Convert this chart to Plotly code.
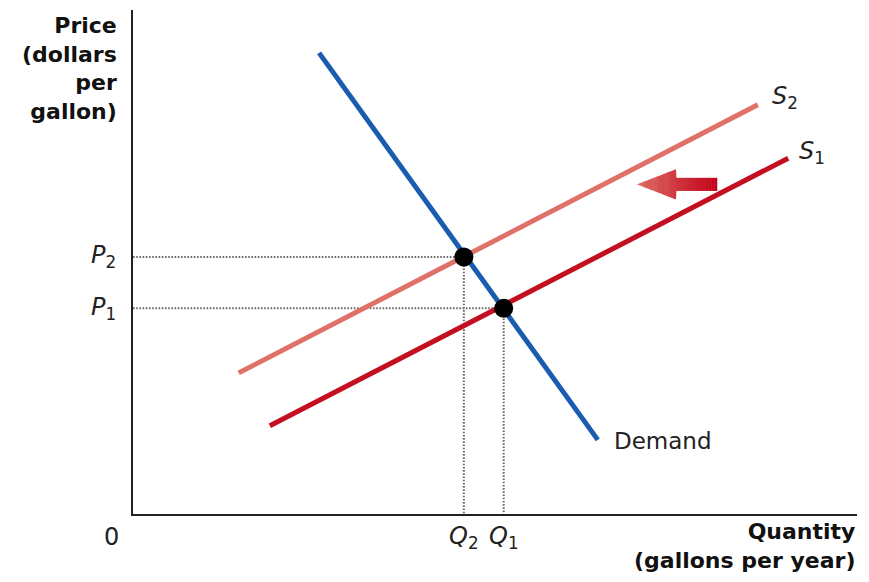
import plotly.graph_objects as go

# Demand curve and the two supply curves (quantity, price) endpoints
demand_q = [25.7, 64.2]
demand_p = [91.5, 14.7]
s1_q = [18.9, 90.5]
s1_p = [17.5, 70.6]
s2_q = [14.6, 86.3]
s2_p = [28.0, 81.2]

# Equilibria: first entry is the original (Q1, P1), second after the shift (Q2, P2)
eq_labels = ["1", "2"]
eq_q = [51.2, 45.7]
eq_p = [40.8, 51.0]

FONT = "DejaVu Sans"
BLUE = "#1a5cb0"
DARK_RED = "#c30f1f"
LIGHT_RED = "#e07168"
GUIDE = "#6a6a6a"

fig = go.Figure()

# Dotted guides from each equilibrium to the axes
for q, p in zip(eq_q, eq_p):
    fig.add_trace(go.Scatter(
        x=[0, q, q], y=[p, p, 0], mode="lines",
        line=dict(color=GUIDE, width=2, dash="1.6px,1.6px"),
        hoverinfo="skip", showlegend=False))

fig.add_trace(go.Scatter(x=s2_q, y=s2_p, mode="lines",
                         line=dict(color=LIGHT_RED, width=5), showlegend=False))
fig.add_trace(go.Scatter(x=s1_q, y=s1_p, mode="lines",
                         line=dict(color=DARK_RED, width=5), showlegend=False))
fig.add_trace(go.Scatter(x=demand_q, y=demand_p, mode="lines",
                         line=dict(color=BLUE, width=5), showlegend=False))
fig.add_trace(go.Scatter(x=eq_q, y=eq_p, mode="markers",
                         marker=dict(color="black", size=19, line=dict(width=0)),
                         showlegend=False))

# Leftward shift arrow, filled with a light-to-dark red gradient in thin slices
tip_x, base_x, tail_x = 69.6, 75.0, 80.7
mid_y, head_half, shaft_half = 65.4, 3.0, 1.3
c_left = (221, 108, 100)
c_right = (192, 0, 24)


def half_height(x):
    if x <= base_x:
        return head_half * (x - tip_x) / (base_x - tip_x)
    return shaft_half


def mix(t):
    return "rgb({},{},{})".format(*[round(a + (b - a) * t) for a, b in zip(c_left, c_right)])


edges = [tip_x + (base_x - tip_x) * i / 18 for i in range(19)]
edges += [base_x + (tail_x - base_x) * i / 14 for i in range(1, 15)]
shapes = []
for i in range(len(edges) - 1):
    x0, x1 = edges[i], edges[i + 1]
    x1e = min(x1 + 0.06, tail_x)
    if x0 < base_x:
        h0, h1 = half_height(x0), half_height(x1)
        h1e = h1 if x1e <= base_x else shaft_half
        path = (f"M{x0},{mid_y - h0} L{x1},{mid_y - h1} L{x1e},{mid_y - h1e} "
                f"L{x1e},{mid_y + h1e} L{x1},{mid_y + h1} L{x0},{mid_y + h0} Z")
    else:
        path = (f"M{x0},{mid_y - shaft_half} L{x1e},{mid_y - shaft_half} "
                f"L{x1e},{mid_y + shaft_half} L{x0},{mid_y + shaft_half} Z")
    t = ((x0 + x1) / 2 - tip_x) / (tail_x - tip_x)
    shapes.append(dict(type="path", path=path, xref="x", yref="y",
                       fillcolor=mix(t), line=dict(width=0), layer="above"))

annotations = [
    dict(text="<b>Price<br>(dollars<br>per<br>gallon)</b>", xref="paper", yref="paper",
         x=-0.019, y=0.998, xanchor="right", yanchor="top", align="right",
         showarrow=False, font=dict(family=FONT, size=22, color="#111")),
    dict(text="<b>Quantity<br>(gallons per year)</b>", xref="paper", yref="paper",
         x=1.0, y=-0.006, xanchor="right", yanchor="top", align="right",
         showarrow=False, font=dict(family=FONT, size=22, color="#111")),
    dict(text="0", xref="paper", yref="paper", x=-0.030, y=-0.046,
         xanchor="center", yanchor="middle", showarrow=False,
         font=dict(family=FONT, size=24, color="#222")),
    dict(text="Demand", xref="x", yref="y", x=66.2, y=14.5,
         xanchor="left", yanchor="middle", showarrow=False,
         font=dict(family=FONT, size=23, color="#222")),
    dict(text="<i>S</i><sub>2</sub>", xref="x", yref="y", x=90.1, y=82.6,
         xanchor="center", yanchor="middle", showarrow=False,
         font=dict(family=FONT, size=24, color="#222")),
    dict(text="<i>S</i><sub>1</sub>", xref="x", yref="y", x=93.8, y=71.8,
         xanchor="center", yanchor="middle", showarrow=False,
         font=dict(family=FONT, size=24, color="#222")),
]
for lab, q, p in zip(eq_labels, eq_q, eq_p):
    annotations.append(dict(text=f"<i>P</i><sub>{lab}</sub>", xref="paper", yref="y",
                            x=-0.021, y=p, xanchor="right", yanchor="middle",
                            showarrow=False, font=dict(family=FONT, size=24, color="#222")))
    annotations.append(dict(text=f"<i>Q</i><sub>{lab}</sub>", xref="x", yref="paper",
                            x=q, y=-0.046, xanchor="center", yanchor="middle",
                            showarrow=False, font=dict(family=FONT, size=24, color="#222")))

axis_style = dict(showgrid=False, zeroline=False, showticklabels=False, ticks="",
                  showline=True, linecolor="#222", linewidth=2, fixedrange=True)

fig.update_layout(
    width=869, height=582, autosize=False,
    margin=dict(l=133, r=12, t=10, b=68),
    paper_bgcolor="white", plot_bgcolor="white",
    xaxis=dict(range=[0, 100], **axis_style),
    yaxis=dict(range=[0, 100], **axis_style),
    shapes=shapes, annotations=annotations,
    showlegend=False,
)

fig.write_html("out.html")
